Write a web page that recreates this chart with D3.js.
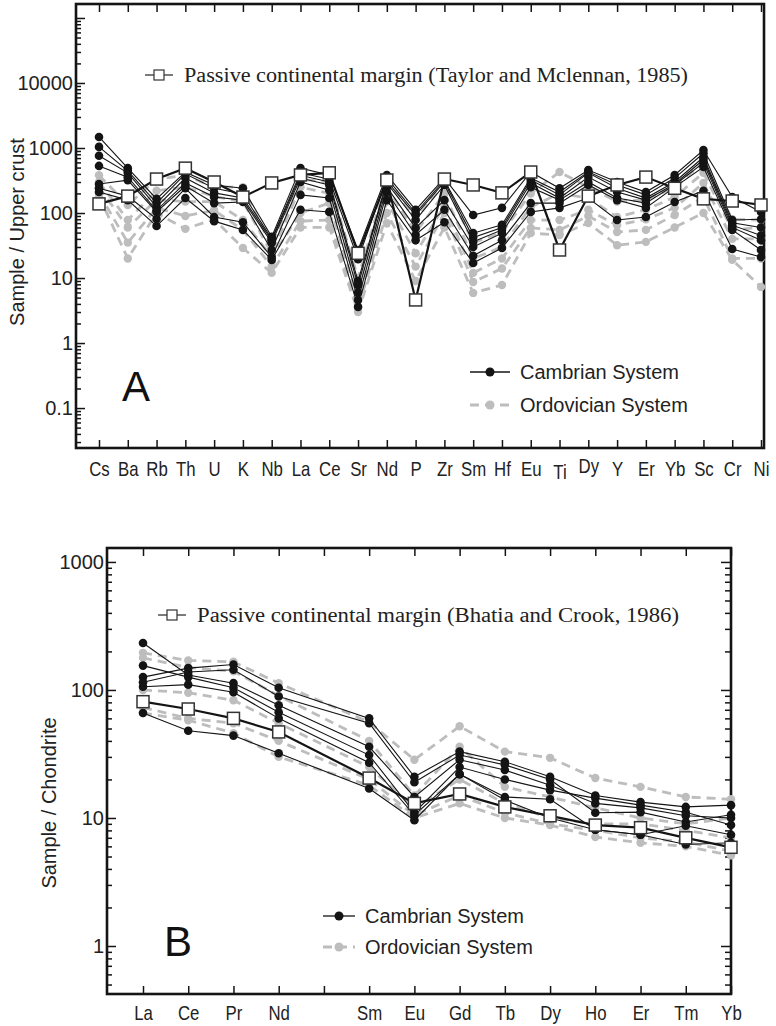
<!DOCTYPE html>
<html>
<head>
<meta charset="utf-8">
<script src="https://cdn.jsdelivr.net/npm/d3@7"></script>
<style>
  body { margin: 0; background: #fff; }
</style>
</head>
<body>
<svg id="chart" width="776" height="1026"></svg>
<script>
// ---- data: panel A (upper crust normalised) ----
const elementsA = ["Cs","Ba","Rb","Th","U","K","Nb","La","Ce","Sr","Nd","P","Zr","Sm","Hf","Eu","Ti","Dy","Y","Er","Yb","Sc","Cr","Ni"];
const pcmA = [138,182,333,490,300,176,290,385,415,24,322,4.6,333,270,204,427,27,182,270,357,240,165,153,133];
const cambrianA = [
  [1480,490,165,425,270,240,43,490,385,27,385,112,345,93,120,427,240,457,300,210,385,930,176,104],
  [1040,445,142,400,240,196,40,415,330,19.5,345,100,320,49,66,345,210,430,270,190,345,830,78,80],
  [760,415,124,345,204,170,38,380,300,9,310,93,300,42,60,322,190,415,240,170,300,720,71,60],
  [530,355,110,290,176,158,35,345,270,7.8,290,78,270,36,55,290,170,357,210,158,280,660,65,45],
  [280,320,104,260,142,148,27,300,225,6,250,59,158,30,49,250,158,300,170,142,270,590,60,38],
  [240,182,81,240,87,72,21,190,170,4.6,210,46,112,22,38,142,142,270,158,120,250,510,55,27],
  [210,158,63,170,75,55,19,112,104,3.6,158,38,72,17,29,104,120,170,78,87,148,220,28,21]
];
const ordovicianA = [
  [380,133,330,380,250,250,30,330,300,10,330,80,300,35,50,200,427,250,150,160,250,600,80,78],
  [300,78,220,250,180,150,24,250,200,7,250,50,200,20,30,124,200,170,87,112,176,415,55,60],
  [250,60,160,150,150,78,21,100,142,4.5,150,24,130,12,20,78,78,112,65,80,120,290,40,40],
  [200,35,120,90,110,55,15,75,78,3.5,100,15,100,8.7,14,59,55,90,51,55,93,176,20,20],
  [180,20,100,57,80,29,12,60,60,3,70,9,60,5.9,7.8,49,46,70,32,36,60,100,19,7.3]
];
const yTicksA = [0.1,1,10,100,1000,10000,100000];
const yLabelsA = [0.1,1,10,100,1000,10000];

// ---- data: panel B (chondrite normalised REE) ----
const ticksB = ["La","Ce","Pr","Nd","Pm","Sm","Eu","Gd","Tb","Dy","Ho","Er","Tm","Yb"];
const elementsB = ["La","Ce","Pr","Nd","Sm","Eu","Gd","Tb","Dy","Ho","Er","Tm","Yb"];
const pcmB = [81,71,60,47,20.5,13,15.4,12.2,10.4,8.8,8.4,7,5.9];
const cambrianB = [
  [233,131,113,76,36,14.6,28.5,23.7,18,13,12,10.4,10],
  [155,126,104,67,31,11,25,20,16.5,14.3,12.6,11.1,8.8],
  [126,148,158,104,60,21,33,27.5,21,15,13.3,12.2,12.6],
  [115,138,144,89,55,19,31,26,20,11,11.1,9.3,10.6],
  [106,110,96,60,27,10.5,22,14.6,14,8.1,7.4,8.7,7.4],
  [66,48,44,32,17,9.6,22,13.8,10,8.1,7.4,6.2,6.4]
];
const ordovicianB = [
  [195,170,166,113,56,28.5,52,33,29.5,20.5,17.5,14.6,14],
  [178,150,140,90,40,15,36,17.5,14.6,12,10,9,10],
  [100,95,83,55,25,12,20,13,10,9,9,8,7],
  [73,60,55,40,20,10.5,15,11,9,8,7,6.5,5.5],
  [66,58,46,30,18,10,13,10,8.8,7.1,6.4,6,5.1]
];
const yTicksB = [1,10,100,1000];
const yLabelsB = [1,10,100,1000];

const svg = d3.select("#chart");
const SANS = "'Liberation Sans', Arial, Helvetica, sans-serif";
const SERIF = "'Liberation Serif', 'Times New Roman', serif";
const GRAY = "#bdbdbd";
const DARK = "#141414";

function isDecade(d) {
  const l = Math.log10(d);
  return Math.abs(l - Math.round(l)) < 1e-6;
}

function styleAxis(a) {
  a.select(".domain").remove();
  a.selectAll("line").attr("stroke", DARK).attr("stroke-width", 1.5);
  a.selectAll("text").attr("fill", "#222");
}

function drawPanel(p) {
  const x = d3.scalePoint().domain(p.ticks).range(p.xRange);
  const y = d3.scaleLog().domain(p.yDomain).range([p.frame.y1, p.frame.y0]);
  const g = svg.append("g");

  // left axis, ticks inside
  const minor = y.ticks().filter(d => !isDecade(d));
  let left = g.append("g").attr("transform", `translate(${p.frame.x0},0)`)
    .call(d3.axisLeft(y).tickValues(minor).tickSize(-5).tickFormat(""));
  styleAxis(left);
  left = g.append("g").attr("transform", `translate(${p.frame.x0},0)`)
    .call(d3.axisLeft(y).tickValues(p.yTicks).tickSize(-9).tickPadding(3)
      .tickFormat(d => p.yLabels.includes(d) ? String(d) : ""));
  styleAxis(left);
  left.selectAll("text").attr("font-family", SANS).attr("font-size", 20);

  if (p.rightTicks) {
    let right = g.append("g").attr("transform", `translate(${p.frame.x1},0)`)
      .call(d3.axisRight(y).tickValues(minor).tickSize(-6).tickFormat(""));
    styleAxis(right);
    right = g.append("g").attr("transform", `translate(${p.frame.x1},0)`)
      .call(d3.axisRight(y).tickValues(p.yTicks).tickSize(-10).tickFormat(""));
    styleAxis(right);
  }

  const top = g.append("g").attr("transform", `translate(0,${p.frame.y0})`)
    .call(d3.axisTop(x).tickSize(-8).tickFormat(""));
  styleAxis(top);

  const bottom = g.append("g").attr("transform", `translate(0,${p.frame.y1})`)
    .call(d3.axisBottom(x).tickSize(-8).tickPadding(p.labelPad)
      .tickFormat(d => d === "Pm" ? "" : d));
  styleAxis(bottom);
  bottom.selectAll("text").attr("font-family", SANS).attr("font-size", 20)
    .attr("transform", "scale(0.84,1)");
  if (p.labelShift) {
    bottom.selectAll("text").attr("dy", d => p.labelShift[d] !== undefined ? p.labelShift[d] : "0.71em");
  }

  // frame
  g.append("rect")
    .attr("x", p.frame.x0).attr("y", p.frame.y0)
    .attr("width", p.frame.x1 - p.frame.x0).attr("height", p.frame.y1 - p.frame.y0)
    .attr("fill", "none").attr("stroke", DARK).attr("stroke-width", 2.6);

  const line = d3.line()
    .x((d, i) => x(p.elements[i]))
    .y(d => y(d));

  // Ordovician (grey dashed)
  p.ord.forEach(s => {
    g.append("path").datum(s).attr("d", line)
      .attr("fill", "none").attr("stroke", GRAY).attr("stroke-width", 2.8)
      .attr("stroke-dasharray", "9,6");
    g.selectAll(null).data(s).enter().append("circle")
      .attr("cx", (d, i) => x(p.elements[i])).attr("cy", d => y(d))
      .attr("r", 4.2).attr("fill", GRAY);
  });

  // Cambrian (black solid)
  p.cam.forEach(s => {
    g.append("path").datum(s).attr("d", line)
      .attr("fill", "none").attr("stroke", DARK).attr("stroke-width", 1.1);
    g.selectAll(null).data(s).enter().append("circle")
      .attr("cx", (d, i) => x(p.elements[i])).attr("cy", d => y(d))
      .attr("r", 4.3).attr("fill", DARK);
  });

  // passive continental margin reference
  g.append("path").datum(p.pcm).attr("d", line)
    .attr("fill", "none").attr("stroke", DARK).attr("stroke-width", 2.2);
  g.selectAll(null).data(p.pcm).enter().append("rect")
    .attr("x", (d, i) => x(p.elements[i]) - 6).attr("y", d => y(d) - 6)
    .attr("width", 12).attr("height", 12)
    .attr("fill", "#fff").attr("stroke", "#333").attr("stroke-width", 1.5);

  // reference legend
  const L = p.pcmLegend;
  g.append("line").attr("x1", L.x).attr("x2", L.x + 28).attr("y1", L.y).attr("y2", L.y)
    .attr("stroke", "#333").attr("stroke-width", 1.3);
  g.append("rect").attr("x", L.x + 9).attr("y", L.y - 5).attr("width", 10).attr("height", 10)
    .attr("fill", "#fff").attr("stroke", "#333").attr("stroke-width", 1.2);
  g.append("text").attr("x", L.x + 39).attr("y", L.y + 7)
    .attr("font-family", SERIF).attr("font-size", 20).attr("fill", "#222")
    .attr("textLength", L.len).attr("lengthAdjust", "spacingAndGlyphs")
    .text(L.text);

  // series legend
  const S = p.sysLegend;
  [["Cambrian System", false], ["Ordovician System", true]].forEach((e, k) => {
    const yy = S.y + k * S.gap;
    g.append("line").attr("x1", S.x).attr("x2", S.x + S.w).attr("y1", yy).attr("y2", yy)
      .attr("stroke", e[1] ? GRAY : DARK).attr("stroke-width", e[1] ? 2.8 : 1.3)
      .attr("stroke-dasharray", e[1] ? "9,6" : null);
    g.append("circle").attr("cx", S.x + S.w / 2).attr("cy", yy).attr("r", 4.5)
      .attr("fill", e[1] ? GRAY : DARK);
    g.append("text").attr("x", S.x + S.w + 10).attr("y", yy + 7)
      .attr("font-family", SANS).attr("font-size", 20).attr("fill", "#222")
      .text(e[0]);
  });

  // panel letter
  g.append("text").attr("x", p.letter.x).attr("y", p.letter.y)
    .attr("font-family", SANS).attr("font-size", 42).attr("fill", "#111")
    .text(p.letter.t);

  // y title
  g.append("text")
    .attr("transform", `translate(${p.yTitle.x},${p.yTitle.y}) rotate(-90)`)
    .attr("text-anchor", "middle").attr("dy", "0.35em")
    .attr("font-family", SANS).attr("font-size", 20).attr("fill", "#222")
    .text(p.yTitle.t);
}

drawPanel({
  ticks: elementsA, elements: elementsA,
  xRange: [99, 761],
  frame: {x0: 76, x1: 764, y0: 4, y1: 448},
  yDomain: [0.0243, 164000],
  yTicks: yTicksA, yLabels: yLabelsA,
  rightTicks: false,
  labelPad: 14,
  labelShift: {"Ti": "0.85em", "Dy": "0.55em"},
  pcm: pcmA, cam: cambrianA, ord: ordovicianA,
  pcmLegend: {x: 145, y: 75, len: 504, text: "Passive continental margin (Taylor and Mclennan, 1985)"},
  sysLegend: {x: 470, y: 372, w: 40, gap: 33},
  letter: {x: 122, y: 401, t: "A"},
  yTitle: {x: 17, y: 232, t: "Sample / Upper crust"}
});

drawPanel({
  ticks: ticksB, elements: elementsB,
  xRange: [143, 731],
  frame: {x0: 107, x1: 731, y0: 548, y1: 994},
  yDomain: [0.4217, 1285],
  yTicks: yTicksB, yLabels: yLabelsB,
  rightTicks: true,
  labelPad: 12,
  pcm: pcmB, cam: cambrianB, ord: ordovicianB,
  pcmLegend: {x: 158, y: 615, len: 482, text: "Passive continental margin (Bhatia and Crook, 1986)"},
  sysLegend: {x: 323, y: 916, w: 32, gap: 31},
  letter: {x: 164, y: 956, t: "B"},
  yTitle: {x: 49, y: 803, t: "Sample / Chondrite"}
});
</script>
</body>
</html>
